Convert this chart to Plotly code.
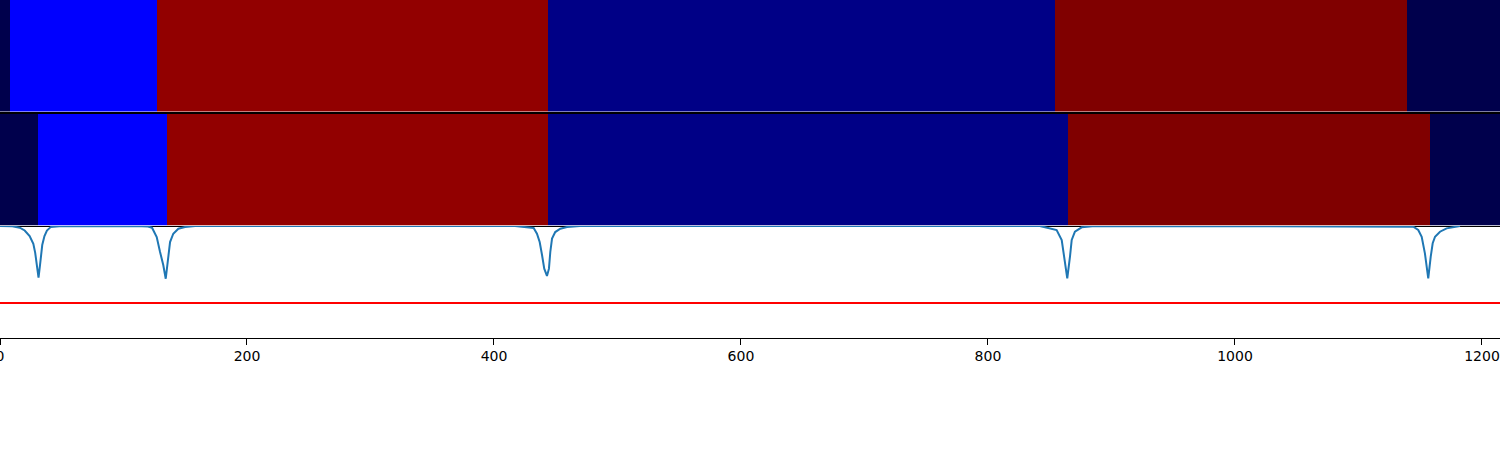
import plotly.graph_objects as go
from plotly.subplots import make_subplots

# ---- data ----
# segment boundaries (x units) and colour levels (0..1 on a seismic-like scale)
top_edges = [0, 8.1, 127.5, 443.7, 854.3, 1139.3, 1215]
top_levels = [0.0, 0.25, 0.964, 0.081, 1.0, 0.0]
mid_edges = [0, 30.5, 135.2, 443.7, 864.8, 1157.9, 1215]
mid_levels = [0.0, 0.25, 0.964, 0.081, 1.0, 0.0]

# cost / score curve
curve_x = [0, 10, 16, 20, 24, 27, 28.5, 29.5, 31.2, 32.4, 33.2, 34.2, 36, 38, 41, 48,
           110, 119.8, 123.1, 126.9, 129.6, 132.2, 134.2, 136.3, 137.7, 140.3, 144.4, 149.8, 158,
           417, 426.7, 432.1, 434.8, 437.0, 438.9, 440.7, 442.9, 444.5, 445.6, 447.0, 449.6, 453.7, 459.1, 469.6,
           842, 850.2, 855.6, 859.7, 862.3, 864.2, 866.4, 867.8, 870.4, 875.9, 886.6,
           1133.6, 1144.4, 1148.4, 1151.2, 1153.8, 1156.5, 1158.5, 1160.1, 1162.0, 1166.0, 1171.4, 1182.2]
curve_y = [1.0, 0.997, 0.985, 0.96, 0.91, 0.84, 0.76, 0.66, 0.54, 0.65, 0.74, 0.83, 0.91, 0.96, 0.99, 0.998,
           1.0, 0.995, 0.985, 0.902, 0.768, 0.652, 0.529, 0.708, 0.857, 0.931, 0.976, 0.991, 1.0,
           1.0, 0.991, 0.982, 0.931, 0.857, 0.741, 0.619, 0.554, 0.619, 0.768, 0.887, 0.946, 0.976, 0.991, 1.0,
           1.0, 0.982, 0.964, 0.875, 0.696, 0.533, 0.726, 0.875, 0.949, 0.988, 1.0,
           1.0, 0.994, 0.964, 0.904, 0.756, 0.533, 0.726, 0.846, 0.904, 0.949, 0.979, 1.0]
threshold = 0.3125
x_max = 1214.6
tick_vals = [0, 200, 400, 600, 800, 1000, 1200]

seismic = [[0.0, "#00004C"], [0.25, "#0000FF"], [0.5, "#FFFFFF"],
           [0.75, "#FF0000"], [1.0, "#800000"]]

fig = make_subplots(rows=3, cols=1, shared_xaxes=False, vertical_spacing=0)

fig.add_trace(go.Heatmap(x=top_edges, y=[0], z=[top_levels], colorscale=seismic,
                         zmin=0, zmax=1, showscale=False, hoverinfo="skip"), row=1, col=1)
fig.add_trace(go.Heatmap(x=mid_edges, y=[0], z=[mid_levels], colorscale=seismic,
                         zmin=0, zmax=1, showscale=False, hoverinfo="skip"), row=2, col=1)
fig.add_trace(go.Scatter(x=curve_x, y=curve_y, mode="lines",
                         line=dict(color="#1f77b4", width=2), showlegend=False), row=3, col=1)
fig.add_trace(go.Scatter(x=[0, x_max], y=[threshold, threshold], mode="lines",
                         line=dict(color="#ff0000", width=2), showlegend=False), row=3, col=1)
# tick marks below the bottom axis (drawn as vertical-line markers at the tick values)
fig.add_trace(go.Scatter(x=tick_vals, y=[-0.025] * len(tick_vals), mode="markers",
                         marker=dict(symbol="line-ns-open", size=5,
                                     line=dict(color="black", width=1.2)),
                         cliponaxis=False, hoverinfo="skip", showlegend=False), row=3, col=1)

H = 338.0
def dom(top_px, bot_px):
    return [(H - bot_px) / H, (H - top_px) / H]

axis_common = dict(showgrid=False, zeroline=False, showline=True, mirror=True,
                   linecolor="black", linewidth=1, automargin=False)

fig.update_layout(
    width=1500, height=450,
    margin=dict(l=0, r=0, t=0, b=112, autoexpand=False),
    paper_bgcolor="white", plot_bgcolor="white",
    showlegend=False,
    font=dict(family="DejaVu Sans", size=14, color="black"),
    xaxis=dict(domain=[0, 1], range=[0, x_max], showticklabels=False, ticks="", **axis_common),
    xaxis2=dict(domain=[0, 1], range=[0, x_max], showticklabels=False, ticks="", **axis_common),
    xaxis3=dict(domain=[0, 1], range=[0, x_max], tickmode="array", tickvals=tick_vals,
                ticks="outside", ticklen=6, tickwidth=1.2, tickcolor="#000000",
                ticklabelstandoff=-1, ticklabeloverflow="allow",
                showgrid=False, zeroline=False, showline=True, mirror=False,
                linecolor="black", linewidth=1, automargin=False,
                tickfont=dict(family="DejaVu Sans", size=14, color="black")),
    yaxis=dict(domain=dom(0, 111.5), range=[-0.5, 0.5], showticklabels=False, ticks="", **axis_common),
    yaxis2=dict(domain=dom(113.5, 225.5), range=[-0.5, 0.5], showticklabels=False, ticks="", **axis_common),
    yaxis3=dict(domain=dom(226, 338), range=[0, 1.0], showticklabels=False, ticks="", **axis_common),
)

fig.write_html("out.html", config={"displayModeBar": False},
               post_script="document.body.style.margin='0';document.body.style.overflow='hidden';")
